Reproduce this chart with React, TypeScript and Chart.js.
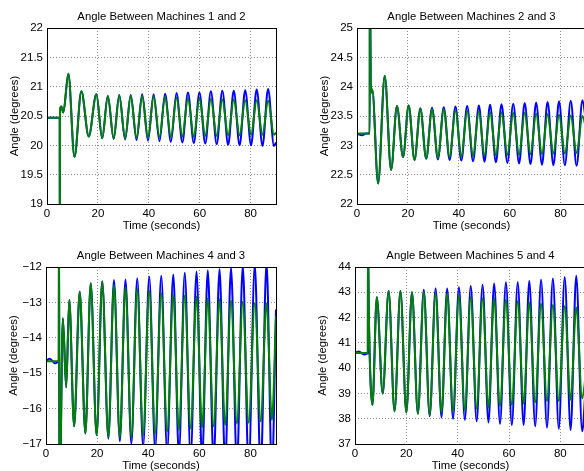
import React, { useEffect, useRef } from "react";
import { Chart, registerables } from "chart.js";

Chart.register(...registerables);

const FONT = "'Liberation Sans', Arial, Helvetica, sans-serif";

// ---------- Data (time in seconds, angle in degrees) ----------
const xTicks = [0, 20, 40, 60, 80];

// Panel 1: Machines 1 and 2
const p1Time = [0, 5.0, 5.05, 5.12, 5.6, 6.4, 8.4, 10.8, 13.5, 16.4,
  19.4, 21.7, 23.9, 26.2, 28.4, 30.7, 32.9, 35.2, 37.4, 39.7, 41.9, 44.2, 46.4, 48.7, 50.9, 53.2,
  55.4, 57.7, 59.9, 62.2, 64.4, 66.7, 68.9, 71.2, 73.4, 75.7, 77.9, 80.2, 82.4, 84.7, 86.9, 89.2, 90];
const p1Blue = [20.47, 20.47, 18.0, 20.6, 20.66, 20.56, 21.22, 19.8, 20.92, 20.15,
  20.87, 20.12, 20.84, 20.11, 20.86, 20.1, 20.86, 20.09, 20.87, 20.08, 20.87, 20.07, 20.88, 20.06, 20.89, 20.05,
  20.9, 20.04, 20.9, 20.03, 20.92, 20.02, 20.93, 20.01, 20.93, 20.0, 20.94, 20.0, 20.95, 19.99, 20.96, 19.99, 20.05];
const p1Green = [20.47, 20.47, 18.0, 20.6, 20.66, 20.56, 21.22, 19.8, 20.92, 20.15,
  20.87, 20.12, 20.84, 20.12, 20.85, 20.12, 20.84, 20.13, 20.84, 20.13, 20.83, 20.14, 20.82, 20.14, 20.81, 20.15,
  20.8, 20.15, 20.8, 20.16, 20.79, 20.16, 20.78, 20.17, 20.78, 20.17, 20.77, 20.18, 20.77, 20.18, 20.76, 20.18, 20.22];
const p1YTicks = [19, 19.5, 20, 20.5, 21, 21.5, 22];

// Panel 2: Machines 2 and 3
const p2Time = [0, 2.0, 3.5, 5.0, 5.05, 5.4, 5.7, 6.0, 8.3, 10.9, 13.4,
  15.7, 18.1, 20.3, 22.6, 24.9, 27.2, 29.5, 31.8, 34.1, 36.4, 38.7, 41.0, 43.3, 45.6, 47.9, 50.1,
  52.3, 54.6, 56.8, 59.1, 61.4, 63.7, 65.9, 68.2, 70.4, 72.7, 74.9, 77.2, 79.4, 81.7, 84.0, 86.3, 88.6, 90];
const p2Blue = [23.2, 23.17, 23.2, 23.2, 26.0, 24.05, 23.9, 23.95, 22.35, 24.18, 22.58,
  23.67, 22.8, 23.68, 22.75, 23.63, 22.77, 23.64, 22.76, 23.65, 22.75, 23.66, 22.74, 23.67, 22.73, 23.68, 22.72,
  23.69, 22.71, 23.7, 22.7, 23.71, 22.69, 23.72, 22.68, 23.73, 22.67, 23.74, 22.66, 23.75, 22.66, 23.76, 22.65, 23.77, 23.4];
const p2Green = [23.2, 23.2, 23.2, 23.2, 26.0, 24.05, 23.9, 23.95, 22.35, 24.18, 22.58,
  23.67, 22.8, 23.68, 22.75, 23.62, 22.78, 23.62, 22.79, 23.61, 22.8, 23.6, 22.81, 23.59, 22.82, 23.58, 22.82,
  23.57, 22.83, 23.56, 22.84, 23.55, 22.84, 23.55, 22.85, 23.54, 22.85, 23.53, 22.86, 23.52, 22.86, 23.51, 22.87, 23.5, 23.3];
const p2YTicks = [22, 22.5, 23, 23.5, 24, 24.5, 25];

// Panel 3: Machines 4 and 3
const p3Time = [0, 1.5, 3.5, 4.9, 5.0, 5.1, 5.25, 6.6, 7.9, 9.1, 11.0, 13.2, 15.4,
  17.5, 19.8, 22.0, 24.4, 26.6, 28.9, 31.1, 33.4, 35.7, 38.0, 40.4, 42.7, 45.1, 47.4, 49.8, 52.0,
  54.3, 56.6, 58.9, 61.1, 63.3, 65.6, 67.9, 70.1, 72.4, 74.7, 77.0, 79.3, 81.7, 84.0, 86.3, 88.4, 90];
const p3Blue = [-14.65, -14.59, -14.72, -14.68, -14.65, -10.0, -19.0, -13.45, -15.4, -12.93, -16.5, -12.7, -16.7,
  -12.46, -16.75, -12.4, -16.85, -12.37, -16.92, -12.35, -17.0, -12.32, -17.08, -12.27, -17.15, -12.25, -17.22,
  -12.21, -17.3, -12.16, -17.37, -12.13, -17.44, -12.09, -17.5, -12.06, -17.57, -12.02, -17.63, -11.97, -17.7,
  -11.93, -17.76, -11.88, -17.82, -13.2];
const p3Green = [-14.66, -14.66, -14.66, -14.66, -14.66, -10.0, -19.0, -13.45, -15.4, -12.93, -16.5, -12.7, -16.7,
  -12.46, -16.75, -12.41, -16.8, -12.51, -16.82, -12.58, -16.8, -12.63, -16.75, -12.68, -16.7, -12.74, -16.65,
  -12.79, -16.6, -12.81, -16.56, -12.84, -16.53, -12.89, -16.5, -12.91, -16.46, -12.95, -16.42, -12.98, -16.4,
  -13.02, -16.36, -13.03, -16.32, -13.4];
const p3YTicks = [-17, -16, -15, -14, -13, -12];

// Panel 4: Machines 5 and 4
const p4Time = [0, 1.5, 3.5, 4.9, 5.0, 5.05, 5.4, 6.8, 8.5, 10.8, 13.1, 15.4,
  17.7, 20.0, 22.2, 24.5, 26.8, 29.1, 31.4, 33.7, 35.9, 38.2, 40.5, 42.8, 45.1, 47.4, 49.7, 52.0,
  54.2, 56.5, 58.8, 61.1, 63.4, 65.7, 67.9, 70.2, 72.5, 74.8, 77.1, 79.4, 81.7, 84.0, 86.2, 88.5, 90];
const p4Blue = [40.6, 40.66, 40.54, 40.58, 40.6, 45.0, 42.05, 38.55, 42.8, 39.0, 43.05, 38.3,
  43.05, 38.25, 43.0, 38.2, 43.1, 38.1, 43.15, 38.05, 43.15, 38.0, 43.2, 37.95, 43.25, 37.9, 43.3, 37.85,
  43.35, 37.8, 43.4, 37.75, 43.4, 37.75, 43.45, 37.7, 43.5, 37.65, 43.55, 37.6, 43.6, 37.55, 43.65, 37.5, 39.5];
const p4Green = [40.6, 40.6, 40.6, 40.6, 40.6, 45.0, 42.05, 38.55, 42.8, 39.0, 43.05, 38.3,
  43.05, 38.25, 43.0, 38.2, 43.0, 38.15, 42.95, 38.25, 42.95, 38.3, 42.85, 38.35, 42.8, 38.4, 42.75, 38.45,
  42.75, 38.5, 42.7, 38.55, 42.65, 38.6, 42.6, 38.65, 42.55, 38.7, 42.5, 38.7, 42.45, 38.75, 42.4, 38.8, 39.8];
const p4YTicks = [37, 38, 39, 40, 41, 42, 43, 44];

const titles = [
  "Angle Between Machines 1 and 2",
  "Angle Between Machines 2 and 3",
  "Angle Between Machines 4 and 3",
  "Angle Between Machines 5 and 4",
];
const xLabel = "Time (seconds)";
const yLabel = "Angle (degrees)";

// ---------- Layout (positions/sizes, kept apart from data) ----------
type Box = { x: number; y: number; w: number; h: number; pad: { left: number; top: number; right: number; bottom: number } };
const boxes: Box[] = [
  { x: 0, y: 0, w: 292, h: 235, pad: { left: 7, top: 28, right: 16, bottom: 11 } },
  { x: 292, y: 0, w: 308, h: 235, pad: { left: 25, top: 28, right: 14, bottom: 11 } },
  { x: 0, y: 235, w: 292, h: 236, pad: { left: 6, top: 32, right: 16, bottom: 7 } },
  { x: 292, y: 235, w: 308, h: 236, pad: { left: 23, top: 32, right: 14, bottom: 7 } },
];

const panels = [
  { time: p1Time, blue: p1Blue, green: p1Green, yTicks: p1YTicks },
  { time: p2Time, blue: p2Blue, green: p2Green, yTicks: p2YTicks },
  { time: p3Time, blue: p3Blue, green: p3Green, yTicks: p3YTicks },
  { time: p4Time, blue: p4Blue, green: p4Green, yTicks: p4YTicks },
];

const framePlugin = {
  id: "matlabFrame",
  afterDraw(chart: any, _args: any, opts: any) {
    const { ctx, chartArea: a } = chart;
    ctx.save();
    ctx.strokeStyle = "#000";
    ctx.lineWidth = 1;
    ctx.strokeRect(Math.round(a.left) + 0.5, Math.round(a.top) + 0.5, Math.round(a.right - a.left), Math.round(a.bottom - a.top));
    ctx.fillStyle = "#000";
    ctx.font = `11.3px ${FONT}`;
    ctx.textAlign = "center";
    ctx.textBaseline = "alphabetic";
    const cx = (a.left + a.right) / 2;
    ctx.fillText(opts.title, cx, a.top - 8.5);
    ctx.fillText(xLabel, cx, a.bottom + 25);
    ctx.translate(a.left - 29, (a.top + a.bottom) / 2);
    ctx.rotate(-Math.PI / 2);
    ctx.fillText(yLabel, 0, 0);
    ctx.restore();
  },
};

function fmt(v: number) {
  const s = String(Math.round(v * 100) / 100);
  return s.replace("-", "\u2212");
}

function Panel({ idx }: { idx: number }) {
  const ref = useRef<HTMLCanvasElement>(null);
  const box = boxes[idx];
  useEffect(() => {
    const p = panels[idx];
    const yt = p.yTicks;
    const toPts = (vals: number[]) => p.time.map((t, i) => ({ x: t, y: vals[i] }));
    const chart = new Chart(ref.current as HTMLCanvasElement, {
      type: "line",
      data: {
        datasets: [
          {
            label: "green",
            data: toPts(p.green),
            borderColor: "#008000",
            borderWidth: 2,
            pointRadius: 0,
            cubicInterpolationMode: "monotone",
            order: 1,
          },
          {
            label: "blue",
            data: toPts(p.blue),
            borderColor: "#0000ff",
            borderWidth: 2,
            pointRadius: 0,
            cubicInterpolationMode: "monotone",
            order: 2,
          },
        ],
      },
      options: {
        responsive: false,
        animation: false,
        devicePixelRatio: 1,
        layout: { padding: box.pad },
        plugins: {
          legend: { display: false },
          tooltip: { enabled: false },
          title: { display: false },
          // @ts-ignore
          matlabFrame: { title: titles[idx] },
        },
        scales: {
          x: {
            type: "linear",
            min: 0,
            max: 90,
            afterFit: (s: any) => { s.height = 20; },
            afterBuildTicks: (s: any) => { s.ticks = xTicks.map((v) => ({ value: v })); },
            ticks: { padding: 3, color: "#000", font: { family: FONT, size: 11.5 }, autoSkip: false, maxRotation: 0, callback: (v: any) => fmt(Number(v)) },
            grid: { color: "#8a8a8a", lineWidth: 1, drawTicks: false },
            border: { display: false, dash: [1, 2] },
          },
          y: {
            type: "linear",
            min: yt[0],
            max: yt[yt.length - 1],
            afterFit: (s: any) => { s.width = 40; },
            afterBuildTicks: (s: any) => { s.ticks = yt.map((v) => ({ value: v })); },
            ticks: { padding: 4, color: "#000", font: { family: FONT, size: 11.5 }, autoSkip: false, callback: (v: any) => fmt(Number(v)) },
            grid: { color: "#8a8a8a", lineWidth: 1, drawTicks: false },
            border: { display: false, dash: [1, 2] },
          },
        },
      },
      plugins: [framePlugin],
    } as any);
    return () => chart.destroy();
  }, [idx]);
  return (
    <canvas
      ref={ref}
      width={box.w}
      height={box.h}
      style={{ position: "absolute", left: box.x, top: box.y, width: box.w, height: box.h, display: "block" }}
    />
  );
}

export default function App() {
  return (
    <div style={{ position: "fixed", left: 0, top: 0, width: 584, height: 471, overflow: "hidden", background: "#fff" }}>
      {[0, 1, 2, 3].map((i) => (
        <Panel key={i} idx={i} />
      ))}
    </div>
  );
}
